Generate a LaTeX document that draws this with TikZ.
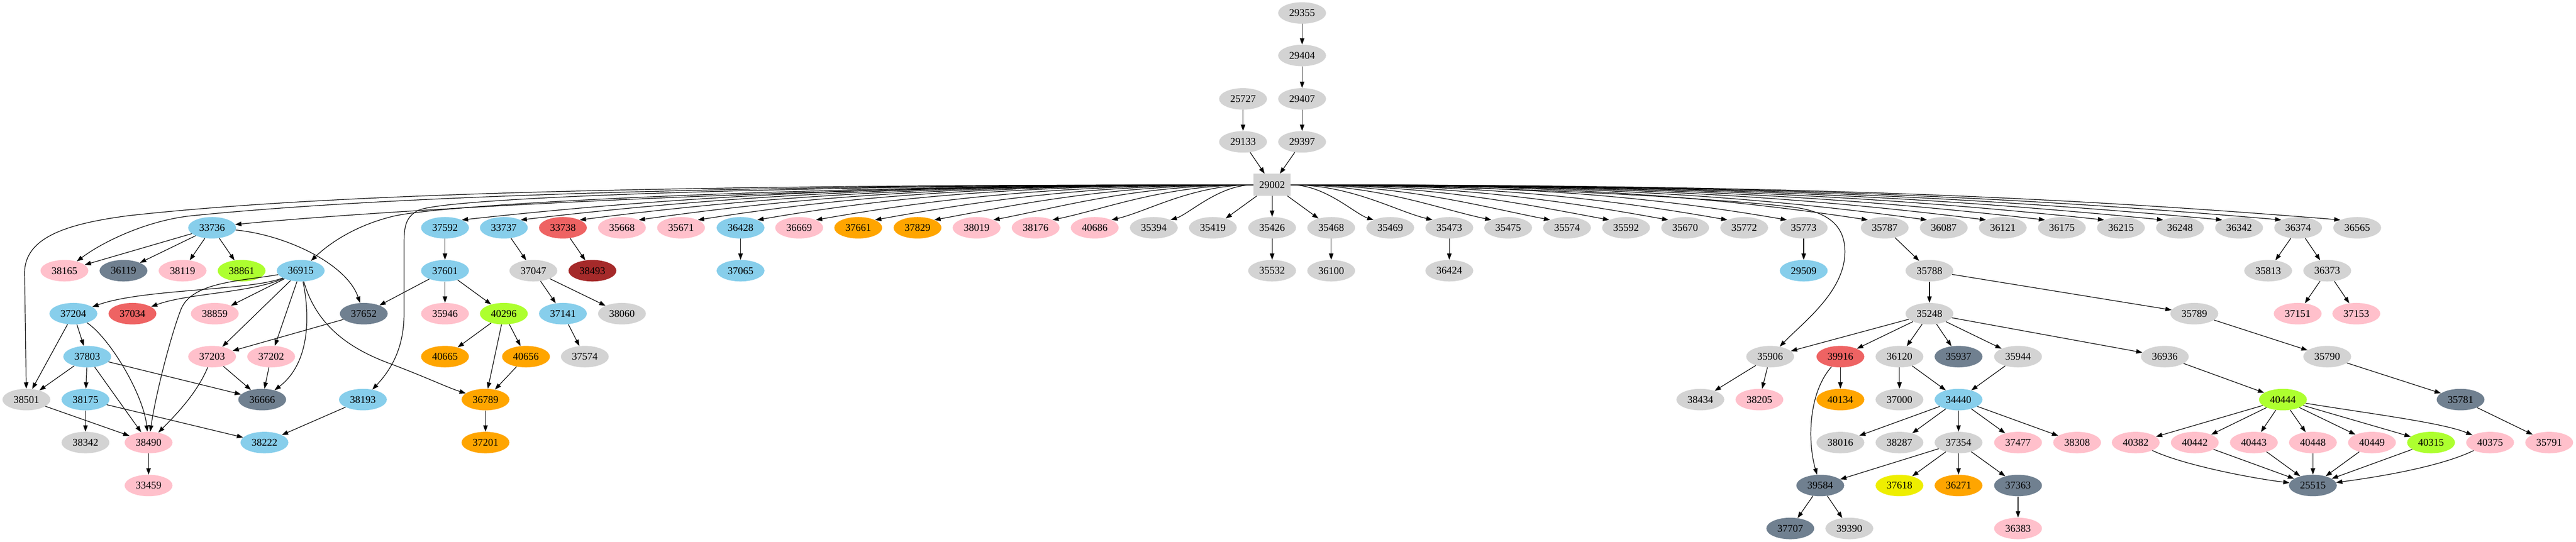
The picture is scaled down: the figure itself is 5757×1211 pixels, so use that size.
\documentclass[tikz,border=0pt]{standalone}
\usepackage{fontspec}
\setmainfont{Liberation Serif}
\usetikzlibrary{arrows.meta,shapes.geometric}
\definecolor{cgray}{HTML}{D3D3D3}
\definecolor{cblue}{HTML}{87CEEB}
\definecolor{cpink}{HTML}{FFC0CB}
\definecolor{cslate}{HTML}{708090}
\definecolor{cgreen}{HTML}{ADFF2F}
\definecolor{cred}{HTML}{EE6363}
\definecolor{cbrown}{HTML}{A52A2A}
\definecolor{corange}{HTML}{FFA500}
\definecolor{cyellow}{HTML}{EEEE00}
\tikzset{
  nd/.style={ellipse, minimum width=53.5pt, minimum height=24pt, inner sep=0pt, font=\fontsize{11.5}{13}\selectfont},
  ngray/.style={nd, fill=cgray},
  nblue/.style={nd, fill=cblue},
  npink/.style={nd, fill=cpink},
  nslate/.style={nd, fill=cslate},
  ngreen/.style={nd, fill=cgreen},
  nred/.style={nd, fill=cred},
  nbrown/.style={nd, fill=cbrown},
  norange/.style={nd, fill=corange},
  nyellow/.style={nd, fill=cyellow},
  nbox/.style={rectangle, minimum width=41.5pt, minimum height=24.5pt, inner sep=0pt, fill=cgray, font=\fontsize{11.5}{13}\selectfont},
  arr/.style={line width=0.7pt, -{Triangle[length=7pt,width=5pt]}},
}
\newcommand\mk[4]{\node[#1] (n#2) at (#3,#4) {#2};}
\newcommand\ed[2]{\draw[arr] (n#1) -- (n#2);}
\newcommand\fan[3]{%
  \pgfmathsetmacro\fca{2843+0.45*(#2-2843)}%
  \pgfmathsetmacro\fcb{#2-0.3*(#2-2843)}%
  \pgfmathsetmacro\fcy{max(435,490-0.045*abs(#2-2843))}%
  \draw[arr] (n29002) .. controls (\fca,413) and (\fcb,\fcy) .. (n#1.#3);}
\begin{document}
\begin{tikzpicture}[x=0.5pt,y=-0.5pt]
\useasboundingbox (0,0) rectangle (5757,1211);
% top
\mk{ngray}{29355}{2910}{29}
\mk{ngray}{29404}{2910}{124}
\mk{ngray}{25727}{2778}{221}
\mk{ngray}{29407}{2910}{221}
\mk{ngray}{29133}{2778}{317}
\mk{ngray}{29397}{2910}{317}
\node[nbox] (n29002) at (2843,413) {29002};
% rank 5
\mk{nblue}{33736}{474}{509}
\mk{nblue}{37592}{994.5}{509}
\mk{nblue}{33737}{1126}{509}
\mk{nred}{33738}{1258}{509}
\mk{npink}{35668}{1390}{509}
\mk{npink}{35671}{1522}{509}
\mk{nblue}{36428}{1655}{509}
\mk{npink}{36669}{1786}{509}
\mk{norange}{37661}{1918}{509}
\mk{norange}{37829}{2050.5}{509}
\mk{npink}{38019}{2182.5}{509}
\mk{npink}{38176}{2314.5}{509}
\mk{npink}{40686}{2446.5}{509}
\mk{ngray}{35394}{2578.6}{509}
\mk{ngray}{35419}{2710.6}{509}
\mk{ngray}{35426}{2843}{509}
\mk{ngray}{35468}{2975}{509}
\mk{ngray}{35469}{3107}{509}
\mk{ngray}{35473}{3239}{509}
\mk{ngray}{35475}{3370.5}{509}
\mk{ngray}{35574}{3502}{509}
\mk{ngray}{35592}{3634}{509}
\mk{ngray}{35670}{3766}{509}
\mk{ngray}{35772}{3898}{509}
\mk{ngray}{35773}{4031}{509}
\mk{ngray}{35787}{4212}{509}
\mk{ngray}{36087}{4344}{509}
\mk{ngray}{36121}{4476}{509}
\mk{ngray}{36175}{4608}{509}
\mk{ngray}{36215}{4740}{509}
\mk{ngray}{36248}{4872}{509}
\mk{ngray}{36342}{5004}{509}
\mk{ngray}{36374}{5136}{509}
\mk{ngray}{36565}{5268}{509}
% rank 6
\mk{npink}{38165}{144}{605}
\mk{nslate}{36119}{276}{605}
\mk{npink}{38119}{408}{605}
\mk{ngreen}{38861}{540}{605}
\mk{nblue}{36915}{672}{605}
\mk{nblue}{37601}{994.5}{605}
\mk{ngray}{37047}{1192}{605}
\mk{nbrown}{38493}{1324}{605}
\mk{nblue}{37065}{1655}{605}
\mk{ngray}{35532}{2843}{605}
\mk{ngray}{36100}{2975}{605}
\mk{ngray}{36424}{3239}{605}
\mk{nblue}{29509}{4031}{605}
\mk{ngray}{35788}{4312}{605}
\mk{ngray}{35813}{5069}{605}
\mk{ngray}{36373}{5201}{605}
% rank 7
\mk{nblue}{37204}{164}{701}
\mk{nred}{37034}{296}{701}
\mk{npink}{38859}{480}{701}
\mk{nslate}{37652}{813}{701}
\mk{npink}{35946}{994.5}{701}
\mk{ngreen}{40296}{1126}{701}
\mk{nblue}{37141}{1258}{701}
\mk{ngray}{38060}{1390}{701}
\mk{ngray}{35248}{4312}{701}
\mk{ngray}{35789}{4904}{701}
\mk{npink}{37151}{5135}{701}
\mk{npink}{37153}{5266}{701}
% rank 8
\mk{nblue}{37803}{195}{797}
\mk{npink}{37203}{474}{797}
\mk{npink}{37202}{606}{797}
\mk{norange}{40665}{994.5}{797}
\mk{norange}{40656}{1175.5}{797}
\mk{ngray}{37574}{1307}{797}
\mk{ngray}{35906}{3956}{797}
\mk{nred}{39916}{4113}{797}
\mk{ngray}{36120}{4245}{797}
\mk{nslate}{35937}{4377}{797}
\mk{ngray}{35944}{4510}{797}
\mk{ngray}{36936}{4838}{797}
\mk{ngray}{35790}{5201}{797}
% rank 9
\mk{ngray}{38501}{59}{893}
\mk{nblue}{38175}{191}{893}
\mk{nslate}{36666}{586}{893}
\mk{nblue}{38193}{811}{893}
\mk{norange}{36789}{1085}{893}
\mk{ngray}{38434}{3800}{893}
\mk{npink}{38205}{3932}{893}
\mk{norange}{40134}{4113}{893}
\mk{ngray}{37000}{4245}{893}
\mk{nblue}{34440}{4377}{893}
\mk{ngreen}{40444}{5102}{893}
\mk{nslate}{35781}{5499}{893}
% rank 10
\mk{ngray}{38342}{191}{989}
\mk{npink}{38490}{332}{989}
\mk{nblue}{38222}{591}{989}
\mk{norange}{37201}{1085}{989}
\mk{ngray}{38016}{4113}{989}
\mk{ngray}{38287}{4245}{989}
\mk{ngray}{37354}{4377}{989}
\mk{npink}{37477}{4510}{989}
\mk{npink}{38308}{4642}{989}
\mk{npink}{40382}{4773}{989}
\mk{npink}{40442}{4905}{989}
\mk{npink}{40443}{5037}{989}
\mk{npink}{40448}{5169}{989}
\mk{npink}{40449}{5301}{989}
\mk{ngreen}{40315}{5433}{989}
\mk{npink}{40375}{5565}{989}
\mk{npink}{35791}{5697}{989}
% rank 11
\mk{npink}{33459}{332}{1085}
\mk{nslate}{39584}{4068}{1085}
\mk{nyellow}{37618}{4245}{1085}
\mk{norange}{36271}{4377}{1085}
\mk{nslate}{37363}{4510}{1085}
\mk{nslate}{25515}{5169}{1085}
% rank 12
\mk{nslate}{37707}{4001}{1181}
\mk{ngray}{39390}{4133}{1181}
\mk{npink}{36383}{4510}{1181}
% ---- edges: top
\ed{29355}{29404}
\ed{29404}{29407}
\ed{29407}{29397}
\ed{29397}{29002}
\ed{25727}{29133}
\ed{29133}{29002}
% fan from 29002
\fan{37592}{994.5}{25}
\fan{33737}{1126}{25}
\fan{33738}{1258}{25}
\fan{35668}{1390}{25}
\fan{35671}{1522}{25}
\fan{36428}{1655}{25}
\fan{36669}{1786}{25}
\fan{37661}{1918}{25}
\fan{37829}{2050.5}{25}
\fan{38019}{2182.5}{25}
\fan{38176}{2314.5}{25}
\fan{40686}{2446.5}{25}
\fan{35394}{2578.6}{25}
\ed{29002}{35419}
\ed{29002}{35426}
\ed{29002}{35468}
\fan{35469}{3107}{155}
\fan{35473}{3239}{155}
\fan{35475}{3370.5}{155}
\fan{35574}{3502}{155}
\fan{35592}{3634}{155}
\fan{35670}{3766}{155}
\fan{35772}{3898}{155}
\fan{35773}{4031}{155}
\fan{35787}{4212}{155}
\fan{36087}{4344}{155}
\fan{36121}{4476}{155}
\fan{36175}{4608}{155}
\fan{36215}{4740}{155}
\fan{36248}{4872}{155}
\fan{36342}{5004}{155}
\fan{36374}{5136}{155}
\fan{36565}{5268}{155}
% long edges from 29002
\draw[arr] (n29002) .. controls (1800,413) and (850,470) .. (n33736.8);
\draw[arr] (n29002) .. controls (1700,413) and (800,425) .. (287,482) .. controls (150,500) and (55,530) .. (55,610) -- (n38501);
\draw[arr] (n29002) .. controls (1700,413) and (900,435) .. (430,482) .. controls (330,492) and (230,540) .. (n38165);
\draw[arr] (n29002) .. controls (1800,413) and (1000,455) .. (880,483) .. controls (800,502) and (740,540) .. (n36915);
\draw[arr] (n29002) .. controls (1800,413) and (1000,440) .. (935,470) .. controls (905,485) and (903,510) .. (903,545) -- (903,700) .. controls (903,770) and (880,820) .. (n38193);
\draw[arr] (n29002) .. controls (3400,415) and (3850,445) .. (4000,462) .. controls (4080,471) and (4122,500) .. (4123,560) .. controls (4125,650) and (4030,720) .. (n35906);
% left cluster
\ed{33736}{38165}
\ed{33736}{36119}
\ed{33736}{38119}
\ed{33736}{38861}
\draw[arr] (n33736) .. controls (640,525) and (775,590) .. (n37652);
\draw[arr] (n36915) .. controls (560,650) and (320,645) .. (n37204);
\draw[arr] (n36915) .. controls (560,655) and (420,655) .. (n37034);
\ed{36915}{38859}
\ed{36915}{37203}
\ed{36915}{37202}
\draw[arr] (n36915) .. controls (692,700) and (695,810) .. (n36666);
\draw[arr] (n36915) .. controls (540,628) and (430,630) .. (405,690) .. controls (385,740) and (350,870) .. (n38490);
\draw[arr] (n36915) .. controls (705,720) and (770,775) .. (870,812) .. controls (950,842) and (1000,866) .. (n36789);
\ed{37204}{38501}
\ed{37204}{37803}
\draw[arr] (n37204) .. controls (245,755) and (320,880) .. (n38490);
\ed{37803}{38501}
\ed{37803}{38175}
\ed{37803}{38490}
\ed{37803}{36666}
\ed{37652}{37203}
\draw[arr] (n37203) .. controls (440,880) and (390,930) .. (n38490);
\ed{37203}{36666}
\ed{37202}{36666}
\ed{38501}{38490}
\ed{38175}{38342}
\ed{38175}{38222}
\ed{38193}{38222}
\ed{38490}{33459}
\ed{37592}{37601}
\ed{33737}{37047}
\ed{33738}{38493}
\ed{36428}{37065}
\ed{37601}{37652}
\ed{37601}{35946}
\ed{37601}{40296}
\ed{37047}{37141}
\ed{37047}{38060}
\ed{37141}{37574}
\ed{40296}{40665}
\ed{40296}{36789}
\ed{40296}{40656}
\ed{40656}{36789}
\ed{36789}{37201}
% right part
\ed{35426}{35532}
\ed{35468}{36100}
\ed{35473}{36424}
\ed{35773}{29509}
\ed{35787}{35788}
\ed{36374}{35813}
\ed{36374}{36373}
\ed{36373}{37151}
\ed{36373}{37153}
\ed{35788}{35248}
\ed{35788}{35789}
\ed{35789}{35790}
\ed{35790}{35781}
\ed{35781}{35791}
\ed{35248}{35906}
\ed{35248}{39916}
\ed{35248}{36120}
\ed{35248}{35937}
\ed{35248}{35944}
\ed{35248}{36936}
\ed{35906}{38434}
\ed{35906}{38205}
\ed{39916}{40134}
\draw[arr] (n39916) .. controls (4040,880) and (4040,990) .. (n39584);
\ed{36120}{37000}
\ed{36120}{34440}
\ed{35944}{34440}
\ed{34440}{38016}
\ed{34440}{38287}
\ed{34440}{37354}
\ed{34440}{37477}
\ed{34440}{38308}
\ed{37354}{39584}
\ed{37354}{37618}
\ed{37354}{36271}
\ed{37354}{37363}
\ed{39584}{37707}
\ed{39584}{39390}
\ed{37363}{36383}
\ed{36936}{40444}
\ed{40444}{40382}
\ed{40444}{40442}
\ed{40444}{40443}
\ed{40444}{40448}
\ed{40444}{40449}
\ed{40444}{40315}
\draw[arr] (n40444) .. controls (5300,925) and (5460,945) .. (n40375);
\draw[arr] (n40382) .. controls (4880,1040) and (5040,1070) .. (n25515);
\ed{40442}{25515}
\ed{40443}{25515}
\ed{40448}{25515}
\ed{40449}{25515}
\ed{40315}{25515}
\draw[arr] (n40375) .. controls (5450,1045) and (5300,1068) .. (n25515);
\end{tikzpicture}
\end{document}
